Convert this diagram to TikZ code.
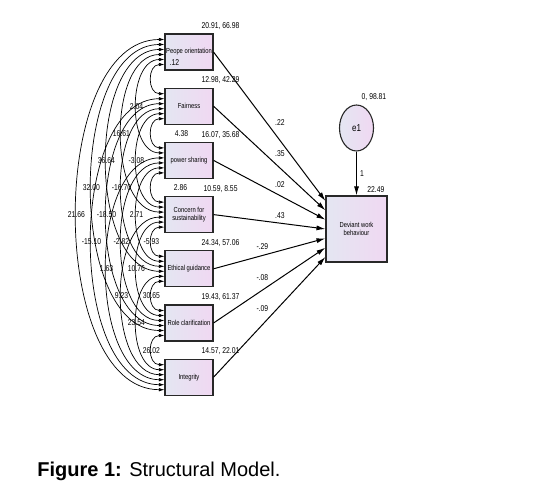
\documentclass[tikz,border=0pt]{standalone}
\usepackage{fontspec}
\setmainfont{Liberation Sans}
\newfontfamily\amosfont[FakeStretch=0.8]{Liberation Sans}
\usetikzlibrary{arrows.meta}
\usetikzlibrary{shapes.geometric}
\definecolor{boxleft}{RGB}{228,230,242}
\definecolor{boxright}{RGB}{240,216,242}
\definecolor{edgegray}{RGB}{40,40,40}

\begin{document}
\begin{tikzpicture}[x=1pt, y=-1pt,
    obs/.style={draw=edgegray, line width=1.1pt, left color=boxleft, right color=boxright,
      minimum width=48pt, minimum height=36pt, inner sep=1pt, align=center,
      font=\amosfont\fontsize{7.3}{8.3}\selectfont},
    est/.style={font=\amosfont\fontsize{8.5}{9}\selectfont, inner sep=1pt},
    regpath/.style={line width=1pt, -{Latex[length=9pt, width=5pt]}},
    cov/.style={line width=0.7pt, {Latex[length=5.5pt, width=3.5pt]}-{Latex[length=5.5pt, width=3.5pt]}}]
    \useasboundingbox (0,0) rectangle (554,487);

    % observed predictors
    \foreach \txt [count=\k] in {Peope orientation, Fairness, power sharing, {Concern for\\sustainability}, Ethical guidance, Role clarification, Integrity}
      \node [obs] (x\k) at (189, {52+54.2*(\k-1)}) {\txt};

    \foreach \v [count=\k] in {{20.91, 66.98}, {12.98, 42.29}, {16.07, 35.68}, {10.59, 8.55}, {24.34, 57.06}, {19.43, 61.37}, {14.57, 22.01}}
      \node [est, anchor=south, inner sep=3.5pt] at ([xshift=7pt]x\k.north east) {\v};

    % outcome and error
    \node [obs, minimum width=61pt, minimum height=66pt] (dwb) at (356.5, 229) {Deviant work\\behaviour};
    \node [est, anchor=south east, inner sep=3pt] at (dwb.north east) {22.49};

    \node [ellipse, draw=edgegray, line width=1.1pt, left color=boxleft, right color=boxright,
      minimum width=34pt, minimum height=46pt, inner sep=0pt,
      font=\amosfont\fontsize{10}{12}\selectfont] (e1) at (356.5, 128) {e1};
    \node [est, anchor=south west] at ([xshift=4pt, yshift=3pt]e1.north) {0, 98.81};

    \draw [regpath] (e1) -- node [est, right=2pt] {1} (dwb);

    % regression weights
    \foreach \c [count=\k] in {.22, .35, .02, .43, -.29, -.08, -.09} {
      \pgfmathsetmacro\dy{28-9.33*(\k-1)}
      \draw [regpath] (x\k.east) -- node [est, pos=0.52, auto, inner sep=3pt] {\c} ([yshift=\dy pt]dwb.west);
    }

    % covariances
    \foreach \i/\j/\c/\dx/\dz in {1/2/.12/23/17, 1/3/2.04/0/0, 1/4/16.61/0/0, 1/5/36.64/0/0, 1/6/32.00/0/0, 1/7/21.66/0/0,
        2/3/4.38/30/0, 2/4/-3.08/0/0, 2/5/-16.70/0/0, 2/6/-18.50/0/0, 2/7/-15.10/0/0,
        3/4/2.86/29/0, 3/5/2.71/0/0, 3/6/-2.82/0/0, 3/7/1.63/0/0,
        4/5/-5.93/0/0, 4/6/10.76/0/0, 4/7/9.23/0/0,
        5/6/30.65/0/0, 5/7/23.54/0/0,
        6/7/26.02/0/0} {
      \pgfmathsetmacro\r{\j-\i}
      \pgfmathsetmacro\L{20*\r-2.7}
      \pgfmathsetmacro\s{5*\r-17.5}
      \draw [cov] ([yshift=\s pt]x\i.west) .. controls +(-\L,0) and +(-\L,0) .. node [est, pos=0.5, xshift=\dx pt, yshift=\dz pt] {\c} ([yshift=-\s pt]x\j.west);
    }

    \node [anchor=base east, font=\fontsize{20}{24}\selectfont] (cap) at (284, 476) {\textbf{Figure 1:} Structural Model.};
\end{tikzpicture}
\end{document}
